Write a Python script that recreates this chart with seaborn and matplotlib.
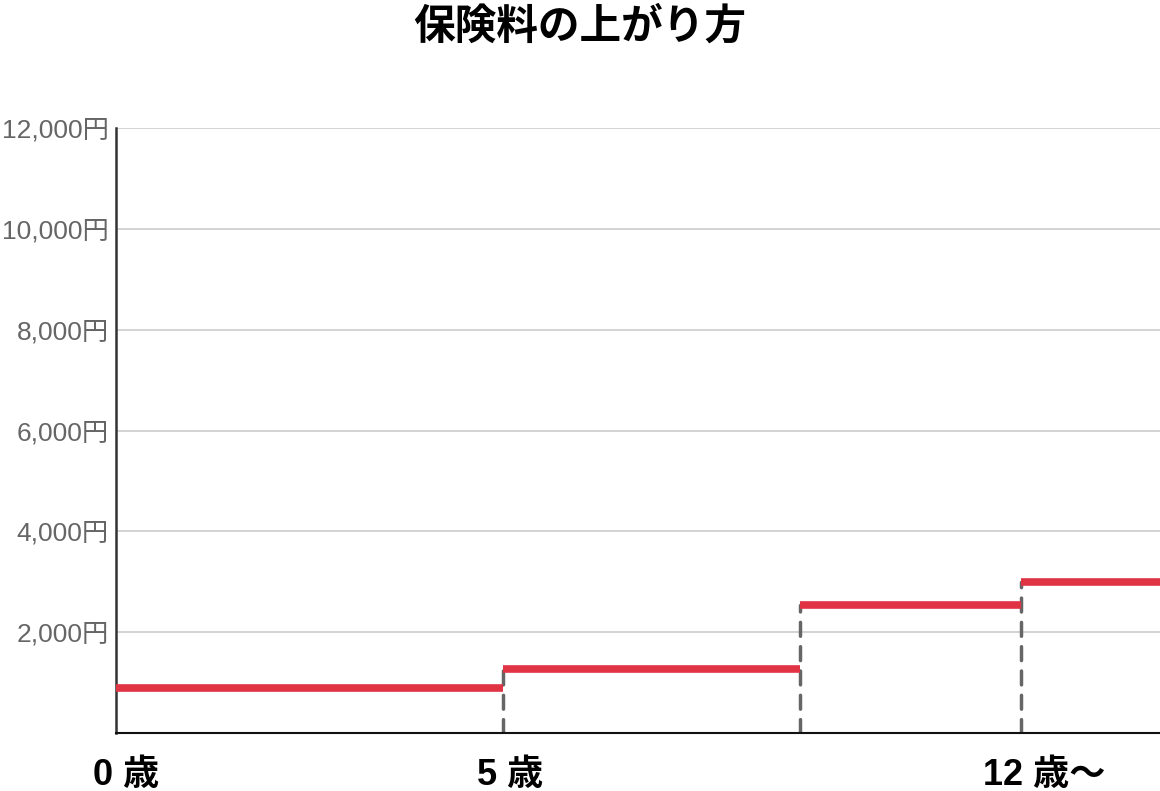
import numpy as np
import pandas as pd
import matplotlib.pyplot as plt
import seaborn as sns

# step boundaries (age axis) and premium per step
step_start = [0, 5, 8.84, 11.7]
step_end = [5, 8.84, 11.7, 13.5]
premium = [900, 1270, 2540, 3000]
tick_ages = [0.13, 5.09, 12]
tick_labels = ["0 歳", "5 歳", "12 歳～"]
y_ticks = [2000, 4000, 6000, 8000, 10000, 12000]

sns.set_theme(style="white")
plt.rcParams["font.family"] = ["Liberation Sans", "Noto Sans CJK JP"]

rows = []
for i, (a, b, p) in enumerate(zip(step_start, step_end, premium)):
    rows.append({"seg": i, "x": a, "y": p})
    rows.append({"seg": i, "x": b, "y": p})
df = pd.DataFrame(rows)

fig = plt.figure(figsize=(11.6, 7.91), dpi=100)
ax = fig.add_axes([0.1, 0.0733, 0.9, 0.7649])

# dashed risers at each step change
for a, p in zip(step_start[1:], premium[1:]):
    ax.plot([a, a], [0, p], color="#666666", lw=2.5, ls=(0, (4, 3)),
            dash_capstyle="round", zorder=2)

sns.lineplot(data=df, x="x", y="y", units="seg", estimator=None,
             color="#e03444", lw=5.5, solid_capstyle="butt", ax=ax, zorder=3)

ax.set_xlim(0, 13.5)
ax.set_ylim(0, 12000)
ax.set_yticks(y_ticks)
ax.set_yticklabels([f"{v:,}円" for v in y_ticks], color="#666666", fontsize=19)
ax.set_xticks(tick_ages)
ax.set_xticklabels(tick_labels, fontsize=26, fontweight="bold", color="black")
ax.tick_params(axis="x", length=0, pad=18)
ax.tick_params(axis="y", length=0, pad=5)
ax.yaxis.grid(True, color="#cccccc", lw=1.2)
ax.set_xlabel("")
ax.set_ylabel("")
for s in ["top", "right"]:
    ax.spines[s].set_visible(False)
ax.spines["left"].set_color("#333333")
ax.spines["left"].set_linewidth(1.8)
ax.spines["bottom"].set_color("#111111")
ax.spines["bottom"].set_linewidth(1.5)

fig.text(0.5, 0.966, "保険料の上がり方", ha="center", va="center",
         fontsize=30, fontweight="bold", color="black")

fig.savefig("out.png", dpi=100)
